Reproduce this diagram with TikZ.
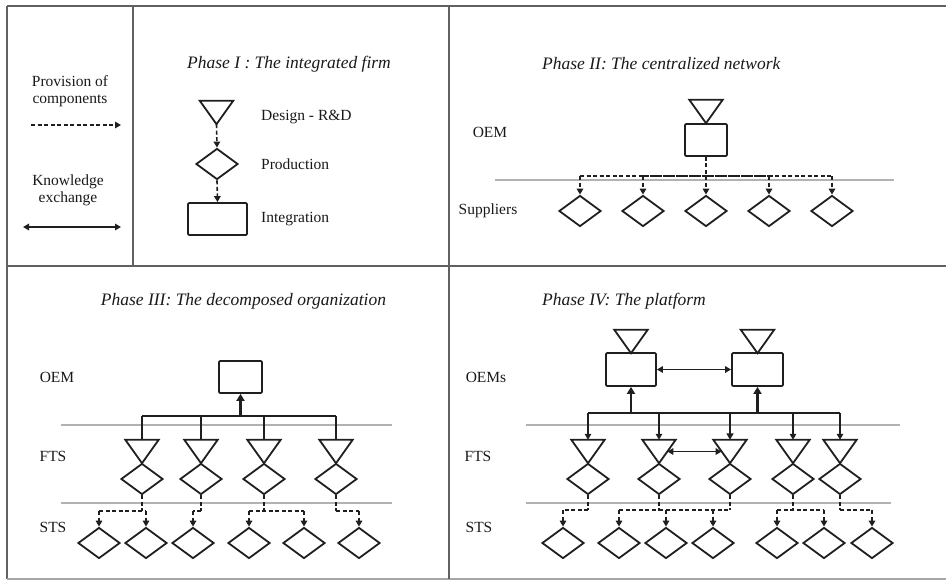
\documentclass[tikz,border=0pt]{standalone}
\usepackage{fontspec}
\setmainfont{Liberation Serif}
\usetikzlibrary{arrows.meta,shapes.geometric,calc}
\newcommand\tridraw[3]{\node[trinode] (#1) at (#2,#3) {};
  \draw[shp] (#1.north west) -- (#1.north east) -- (#1.south) -- cycle;}
\begin{document}
\begin{tikzpicture}[x=1pt,y=-1pt,
  frameline/.style={draw=black!62,line width=2.3pt},
  sepline/.style={draw=black!30,line width=1.3pt},
  shp/.style={draw=black!88,line width=1.8pt,line join=miter},
  dia/.style={diamond,shp,minimum width=42pt,minimum height=31pt,inner sep=0pt},
  box/.style={rectangle,shp,rounded corners=1.2pt,inner sep=0pt},
  trinode/.style={rectangle,inner sep=0pt,minimum width=33pt,minimum height=23pt},
  tip/.style={-{Triangle[length=6pt,width=6.5pt]}},
  prov/.style={black!88,line width=1.6pt,dash pattern=on 4pt off 2.5pt,tip},
  provthick/.style={prov,line width=2.5pt},
  provline/.style={black!88,line width=1.6pt,dash pattern=on 4pt off 2.5pt},
  provlinethick/.style={provline,line width=2.5pt},
  know/.style={black!88,line width=1.7pt,{Triangle[length=6pt,width=6.5pt]}-{Triangle[length=6pt,width=6.5pt]}},
  solidline/.style={black!88,line width=1.7pt},
  thickline/.style={black!88,line width=2.6pt},
  uparrow/.style={thickline,-{Triangle[length=7pt,width=8pt]}},
  lbl/.style={font=\fontsize{15.5}{17}\selectfont,text=black!90,inner sep=0pt},
  ttl/.style={font=\fontsize{17.5}{19}\selectfont\itshape,text=black!90,inner sep=0pt},
]
\useasboundingbox (0,0) rectangle (946,581);
% ---------- frame
\draw[frameline] (7,6) -- (946,6);
\draw[frameline] (7,6) -- (7,579);
\draw[frameline,draw=black!35] (7,579) -- (946,579);
\draw[frameline] (7,266) -- (946,266);
\draw[frameline] (449,6) -- (449,579);
\draw[frameline] (133,6) -- (133,266);

% ---------- legend
\node[lbl,align=center] (lgp) at (70,91) {Provision of\\components};
\coordinate (lgpa) at (31,125);
\coordinate (lgpb) at (121,125);
\draw[prov] (lgpa) -- (lgpb);
\node[lbl,align=center] (lgk) at (68,190) {Knowledge\\exchange};
\coordinate (lgka) at (23,227);
\coordinate (lgkb) at (121,227);
\draw[know] (lgka) -- (lgkb);

% ---------- Phase I
\node[ttl] (p1title) at (289,64) {Phase I : The integrated firm};
\tridraw{p1t}{216.5}{112.5}
\node[dia] (p1d) at (217,164) {};
\node[box,minimum width=59pt,minimum height=32pt] (p1r) at (217.5,219) {};
\draw[prov] (p1t.south) -- (p1d.north);
\draw[prov] (p1d.south) -- (p1r.north);
\node[lbl,anchor=west] (p1l1) at (261,117) {Design - R\&D};
\node[lbl,anchor=west] (p1l2) at (261,164) {Production};
\node[lbl,anchor=west] (p1l3) at (261,219) {Integration};

% ---------- Phase II
\node[ttl,anchor=west] (p2title) at (542,64) {Phase II: The centralized network};
\node[lbl] (p2oem) at (490,132) {OEM};
\node[lbl] (p2sup) at (488,211) {Suppliers};
\draw[sepline] (495,180) -- (894,180);
\tridraw{p2t}{706}{111.5}
\node[box,minimum width=42pt,minimum height=32pt] (p2r) at (706,140) {};
\foreach \i/\x in {1/580,2/643,3/706,4/769,5/832}
  \node[dia] (p2d\i) at (\x,211) {};
\coordinate (p2bus) at (706,176);
\draw[provline] (p2d1.north |- p2bus) -- (p2d5.north |- p2bus);
\draw[provlinethick] (p2d2.north |- p2bus) -- (p2d4.north |- p2bus);
\draw[provthick] (p2r.south) -- (p2d3.north);
\foreach \i in {1,2,4,5}
  \draw[prov] (p2d\i.north |- p2bus) -- (p2d\i.north);

% ---------- Phase III
\node[ttl] (p3title) at (243.5,301) {Phase III: The decomposed organization};
\node[lbl] (p3oem) at (57,377) {OEM};
\node[lbl] (p3fts) at (53,456) {FTS};
\node[lbl] (p3sts) at (53,527) {STS};
\draw[sepline] (61,425) -- (392,425);
\draw[sepline] (61,503) -- (392,503);
\node[box,minimum width=43pt,minimum height=32pt] (p3r) at (240.5,377) {};
\foreach \i/\x in {1/142,2/201,3/264,4/336}{
  \tridraw{p3t\i}{\x}{451.5}
  \node[dia] (p3f\i) at (\x,479) {};
}
\foreach \i/\x in {1/99,2/146,3/193,4/249,5/304,6/359}
  \node[dia] (p3s\i) at (\x,543) {};
\coordinate (p3bus) at (241,416);
\draw[solidline] (p3t1.north |- p3bus) -- (p3t4.north |- p3bus);
\draw[thickline] (p3t2.north |- p3bus) -- (p3t3.north |- p3bus);
\foreach \i in {1,2,3,4}
  \draw[solidline] (p3t\i.north |- p3bus) -- (p3t\i.north);
\draw[uparrow] (p3r.south |- p3bus) -- (p3r.south);
\coordinate (p3sb) at (0,511);
\foreach \i in {1,2,3,4}
  \draw[provline] (p3f\i.south) -- (p3f\i.south |- p3sb);
\draw[provline] (p3s1.north |- p3sb) -- (p3s2.north |- p3sb);
\draw[provline] (p3f2.south |- p3sb) -- (p3s3.north |- p3sb);
\draw[provline] (p3s4.north |- p3sb) -- (p3s5.north |- p3sb);
\draw[provline] (p3f4.south |- p3sb) -- (p3s6.north |- p3sb);
\foreach \i in {1,...,6}
  \draw[prov] (p3s\i.north |- p3sb) -- (p3s\i.north);

% ---------- Phase IV
\node[ttl,anchor=west] (p4title) at (542,301) {Phase IV: The platform};
\node[lbl] (p4oem) at (486,377) {OEMs};
\node[lbl] (p4fts) at (478,456) {FTS};
\node[lbl] (p4sts) at (479,527) {STS};
\draw[sepline] (526,425) -- (900,425);
\draw[sepline] (526,503) -- (891,503);
\tridraw{p4ta}{631}{341.5}
\node[box,minimum width=50pt,minimum height=33pt] (p4ra) at (631,369.5) {};
\tridraw{p4tb}{757.5}{341.5}
\node[box,minimum width=51pt,minimum height=33pt] (p4rb) at (757.5,369.5) {};
\draw[know] (p4ra.east) -- (p4rb.west);
\foreach \i/\x in {1/588,2/659,3/730,4/793,5/840}{
  \tridraw{p4t\i}{\x}{451.5}
  \node[dia] (p4f\i) at (\x,479) {};
}
\foreach \i/\x in {1/563,2/619,3/666,4/713,5/777,6/824,7/872}
  \node[dia] (p4s\i) at (\x,543) {};
\coordinate (p4bus) at (0,413);
\draw[solidline] (p4t1.north |- p4bus) -- (p4t5.north |- p4bus);
\draw[thickline] (p4ra.south |- p4bus) -- (p4t2.north |- p4bus);
\draw[thickline] (p4rb.south |- p4bus) -- (p4t4.north |- p4bus);
\draw[uparrow] (p4ra.south |- p4bus) -- (p4ra.south);
\draw[uparrow] (p4rb.south |- p4bus) -- (p4rb.south);
\foreach \i in {1,2,4,5}
  \draw[solidline,tip] (p4t\i.north |- p4bus) -- (p4t\i.north);
\draw[thickline,-{Triangle[length=6.5pt,width=7pt]}] (p4t3.north |- p4bus) -- (p4t3.north);
\draw[know] ($(p4t2.north east)!0.5!(p4t2.south)$) -- ($(p4t3.north west)!0.5!(p4t3.south)$);
\coordinate (p4sb) at (0,510);
\foreach \i in {1,...,5}
  \draw[provline] (p4f\i.south) -- (p4f\i.south |- p4sb);
\draw[provline] (p4f1.south |- p4sb) -- (p4s1.north |- p4sb);
\draw[provline] (p4s2.north |- p4sb) -- (p4f2.south |- p4sb);
\draw[provlinethick] (p4f2.south |- p4sb) -- (p4f3.south |- p4sb);
\draw[provline] (p4s5.north |- p4sb) -- (p4s6.north |- p4sb);
\draw[provline] (p4f5.south |- p4sb) -- (p4s7.north |- p4sb);
\foreach \i in {1,...,7}
  \draw[prov] (p4s\i.north |- p4sb) -- (p4s\i.north);
\end{tikzpicture}
\end{document}
